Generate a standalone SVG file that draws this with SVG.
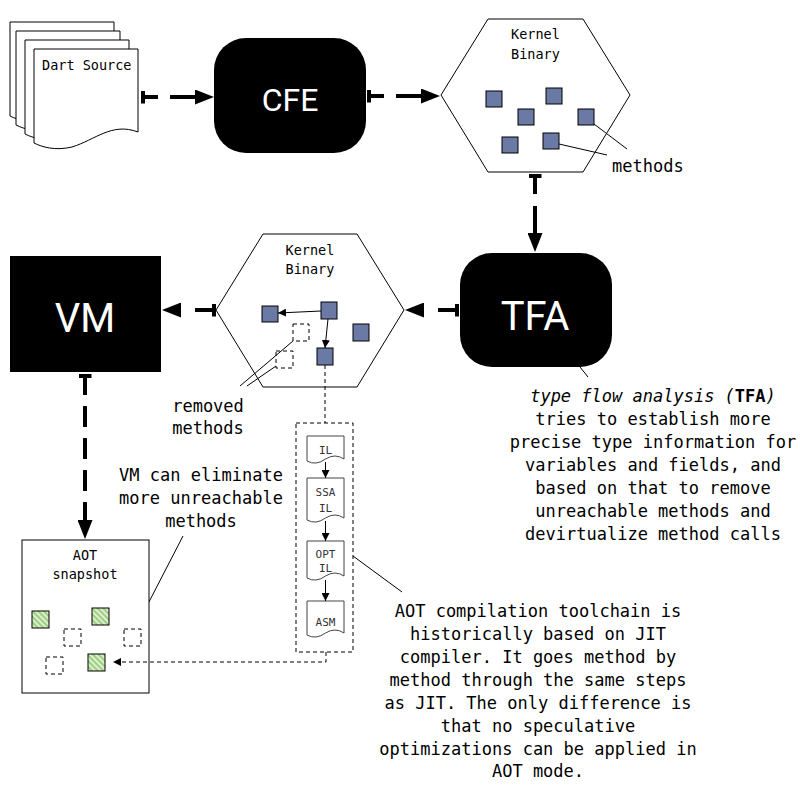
<svg xmlns="http://www.w3.org/2000/svg" width="800" height="800" viewBox="0 0 800 800">
<defs>
<style>
.mono{font-family:"DejaVu Sans Mono","Liberation Mono",monospace;fill:#000}
.big{font-size:17px}
.small{font-size:13.5px}
.tiny{font-size:11px;fill:#333}
.title{font-family:Roboto,"Liberation Sans",sans-serif;fill:#fff;text-anchor:middle}
.mid{text-anchor:middle}
.thick{fill:none;stroke:#000;stroke-width:4}
.thin{fill:none;stroke:#000;stroke-width:1}
.dash{fill:none;stroke:#000;stroke-width:1;stroke-dasharray:4 3}
.doc{fill:#fff;stroke:#000;stroke-width:1}
.idoc{fill:#fff;stroke:#444;stroke-width:1}
.meth{fill:#6a7aa5;stroke:#000;stroke-width:1}
.gone{fill:#fff;stroke:#000;stroke-width:1;stroke-dasharray:4 3}
.aot{fill:url(#hatch);stroke:#000;stroke-width:1}
</style>
<pattern id="hatch" width="4" height="4" patternUnits="userSpaceOnUse" patternTransform="rotate(-45)">
<rect width="4" height="4" fill="#9fcf80"/>
<rect width="1.6" height="4" fill="#eaf6e2"/>
</pattern>
<marker id="head" markerUnits="userSpaceOnUse" markerWidth="19" markerHeight="15" refX="0" refY="7.5" orient="auto">
<path d="M0,0 L19,7.5 L0,15 Z" fill="#000"/>
</marker>
<marker id="tee" markerUnits="userSpaceOnUse" markerWidth="4" markerHeight="13" refX="0" refY="6.5" orient="auto">
<rect x="0" y="0" width="4" height="13" fill="#000"/>
</marker>
<marker id="sm" markerUnits="userSpaceOnUse" markerWidth="8" markerHeight="8" refX="8" refY="4" orient="auto">
<path d="M0,0 L8,4 L0,8 Z" fill="#000"/>
</marker>
</defs>
<rect width="800" height="800" fill="#fff"/>

<g id="dart-source">
<path class="doc" d="M10,22 H114 V105 C88,95 71,113 48,120 C31,124 18,120 10,116 Z"/>
<path class="doc" d="M16,31 H120 V114 C94,104 77,122 54,129 C37,133 24,129 16,125 Z"/>
<path class="doc" d="M25,40 H129 V123 C103,113 86,131 63,138 C46,142 33,138 25,134 Z"/>
<path class="doc" d="M34,49 H138 V132 C112,122 95,140 72,147 C55,151 42,147 34,143 Z"/>
<text class="mono small" x="42" y="70">Dart Source</text>
</g>

<g id="cfe">
<rect x="214" y="38" width="152" height="115" rx="32" fill="#000"/>
<text class="title" x="290" y="111" font-size="32">CFE</text>
</g>

<g id="kernel-binary-1">
<polygon points="441,95 488,19 583,19 630,95 583,172 488,172" fill="#fff" stroke="#000" stroke-width="1"/>
<text class="mono small mid" x="535.5" y="39">Kernel</text>
<text class="mono small mid" x="535.5" y="59">Binary</text>
<rect class="meth" x="486" y="91" width="16" height="16"/>
<rect class="meth" x="546" y="88" width="16" height="16"/>
<rect class="meth" x="518" y="109" width="16" height="16"/>
<rect class="meth" x="578" y="109" width="16" height="16"/>
<rect class="meth" x="502" y="137" width="16" height="16"/>
<rect class="meth" x="543" y="133" width="16" height="16"/>
</g>

<g id="methods-label">
<line class="thin" x1="594" y1="124" x2="627" y2="149"/>
<line class="thin" x1="559" y1="144" x2="607" y2="155"/>
<text class="mono big" x="612" y="172">methods</text>
</g>

<g id="tfa">
<rect x="460" y="253" width="152" height="114" rx="32" fill="#000"/>
<text class="title" x="535" y="330" font-size="40">TFA</text>
</g>

<g id="tfa-note">
<line class="thin" x1="580" y1="367" x2="588" y2="377"/>
<text class="mono big mid" x="653" y="402"><tspan font-style="italic">type flow analysis (</tspan><tspan font-weight="bold">TFA</tspan><tspan font-style="italic">)</tspan></text>
<text class="mono big mid" x="653" y="425">tries to establish more</text>
<text class="mono big mid" x="653" y="448">precise type information for</text>
<text class="mono big mid" x="653" y="471">variables and fields, and</text>
<text class="mono big mid" x="653" y="494">based on that to remove</text>
<text class="mono big mid" x="653" y="517">unreachable methods and</text>
<text class="mono big mid" x="653" y="540">devirtualize method calls</text>
</g>

<g id="kernel-binary-2">
<polygon points="216,310 263,234 357,234 404,310 357,387 263,387" fill="#fff" stroke="#000" stroke-width="1"/>
<text class="mono small mid" x="310" y="255">Kernel</text>
<text class="mono small mid" x="310" y="274">Binary</text>
<rect class="meth" x="262" y="306" width="16" height="16"/>
<rect class="meth" x="321" y="302" width="16" height="17"/>
<rect class="meth" x="353" y="324" width="16" height="17"/>
<rect class="meth" x="317" y="348" width="16" height="17"/>
<rect class="gone" x="293" y="324" width="16" height="17"/>
<rect class="gone" x="276" y="351" width="17" height="17"/>
<line class="thin" x1="321" y1="311" x2="278" y2="313" marker-end="url(#sm)"/>
<line class="thin" x1="328" y1="319" x2="325" y2="348" marker-end="url(#sm)"/>
</g>

<g id="removed-label">
<line class="thin" x1="293" y1="341" x2="240" y2="386"/>
<line class="thin" x1="276" y1="366" x2="247" y2="386"/>
<text class="mono big mid" x="208" y="412">removed</text>
<text class="mono big mid" x="208" y="434">methods</text>
</g>

<g id="vm">
<rect x="10" y="256" width="151" height="116" fill="#000"/>
<text class="title" x="85" y="332" font-size="40">VM</text>
</g>

<g id="vm-note">
<line class="thin" x1="183" y1="536" x2="135" y2="629"/>
<text class="mono big mid" x="201" y="481">VM can eliminate</text>
<text class="mono big mid" x="201" y="504">more unreachable</text>
<text class="mono big mid" x="201" y="527">methods</text>
</g>

<g id="aot-snapshot">
<rect x="22" y="540" width="127" height="153" fill="#fff" stroke="#000" stroke-width="1"/>
<text class="mono small mid" x="85" y="560">AOT</text>
<text class="mono small mid" x="85" y="579">snapshot</text>
<rect class="aot" x="32" y="611" width="17" height="17"/>
<rect class="aot" x="92" y="608" width="17" height="17"/>
<rect class="aot" x="88" y="654" width="17" height="17"/>
<rect class="gone" x="64" y="629" width="17" height="17"/>
<rect class="gone" x="124" y="629" width="17" height="17"/>
<rect class="gone" x="46" y="657" width="17" height="17"/>
</g>

<g id="compilation-pipeline">
<rect x="296" y="423" width="57" height="229" fill="none" stroke="#000" stroke-width="1" stroke-dasharray="4 3"/>
<path class="idoc" d="M307,436 H344 V459 Q335,453 325.5,459 Q316,466 307,461 Z"/>
<text class="mono tiny mid" x="325.5" y="454">IL</text>
<path class="idoc" d="M307,478 H344 V518 Q335,512 325.5,518 Q316,525 307,520 Z"/>
<text class="mono tiny mid" x="325.5" y="496">SSA</text>
<text class="mono tiny mid" x="325.5" y="512">IL</text>
<path class="idoc" d="M307,541 H344 V576 Q335,570 325.5,576 Q316,583 307,578 Z"/>
<text class="mono tiny mid" x="325.5" y="558">OPT</text>
<text class="mono tiny mid" x="325.5" y="572">IL</text>
<path class="idoc" d="M307,601 H344 V633 Q335,627 325.5,633 Q316,640 307,635 Z"/>
<text class="mono tiny mid" x="325.5" y="626">ASM</text>
<line class="thin" x1="325.5" y1="462" x2="325.5" y2="478" marker-end="url(#sm)"/>
<line class="thin" x1="325.5" y1="521" x2="325.5" y2="541" marker-end="url(#sm)"/>
<line class="thin" x1="325.5" y1="580" x2="325.5" y2="601" marker-end="url(#sm)"/>
</g>

<g id="aot-note">
<line class="thin" x1="353" y1="556" x2="402" y2="592"/>
<text class="mono big mid" x="538" y="617">AOT compilation toolchain is</text>
<text class="mono big mid" x="538" y="640">historically based on JIT</text>
<text class="mono big mid" x="538" y="663">compiler. It goes method by</text>
<text class="mono big mid" x="538" y="686">method through the same steps</text>
<text class="mono big mid" x="538" y="709">as JIT. The only difference is</text>
<text class="mono big mid" x="538" y="732">that no speculative</text>
<text class="mono big mid" x="538" y="755">optimizations can be applied in</text>
<text class="mono big mid" x="538" y="777">AOT mode.</text>
</g>

<g id="connectors">
<line class="thick" x1="141" y1="97" x2="195" y2="97" stroke-dasharray="17 12 25 12" marker-start="url(#tee)" marker-end="url(#head)"/>
<line class="thick" x1="367" y1="96" x2="421" y2="96" stroke-dasharray="17 12 25 12" marker-start="url(#tee)" marker-end="url(#head)"/>
<line class="thick" x1="535" y1="174" x2="535" y2="233" stroke-dasharray="20 12 27 12" marker-start="url(#tee)" marker-end="url(#head)"/>
<line class="thick" x1="459" y1="310" x2="424" y2="310" stroke-dasharray="21 14" marker-start="url(#tee)" marker-end="url(#head)"/>
<line class="thick" x1="216" y1="310" x2="181" y2="310" stroke-dasharray="21 14" marker-start="url(#tee)" marker-end="url(#head)"/>
<line class="thick" x1="85" y1="374" x2="85" y2="520" stroke-dasharray="21 11" marker-start="url(#tee)" marker-end="url(#head)"/>
<line class="dash" x1="325" y1="365" x2="325" y2="423"/>
<polyline class="dash" points="326,652 326,662 113,662" marker-end="url(#sm)"/>
</g>
</svg>
